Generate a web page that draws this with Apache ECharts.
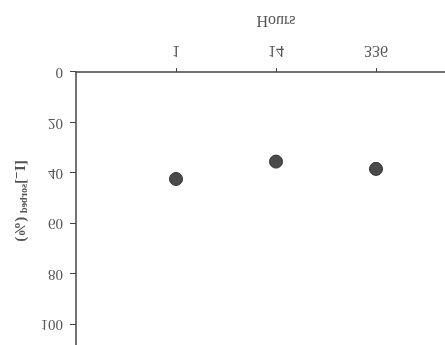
<!DOCTYPE html>
<html>
<head>
<meta charset="utf-8">
<script src="https://cdn.jsdelivr.net/npm/echarts@6/dist/echarts.min.js"></script>
<style>
html,body{margin:0;padding:0;background:#fff;}
#c{width:445px;height:345px;transform:scaleY(-1);}
</style>
</head>
<body>
<div id="c"></div>
<script>
// Hours categories (equally spaced positions 1,2,3 on the axis)
const hourLabels = ['1', '14', '336'];
const hourPositions = [1, 2, 3];
// Sorbed iodide (%)
const sorbed = [42.4, 35.5, 38.4];
const yTicks = [0, 20, 40, 60, 80, 100];

const chart = echarts.init(document.getElementById('c'), null, {renderer: 'canvas'});
const font = '"Liberation Serif", "DejaVu Serif", serif';
const axisCol = '#444';
const txtCol = '#555';

chart.setOption({
  backgroundColor: '#fff',
  animation: false,
  grid: {left: 76, right: 0, top: 0, bottom: 72, containLabel: false},
  xAxis: {
    type: 'value', min: 0, max: 3.69, interval: 1,
    name: 'Hours', nameLocation: 'middle', nameGap: 44,
    nameTextStyle: {fontFamily: font, fontSize: 16, color: txtCol, padding: [0, 0, 0, 31]},
    axisLine: {show: true, onZero: false, lineStyle: {color: axisCol, width: 1.5}},
    axisTick: {show: true, length: 4, customValues: hourPositions, lineStyle: {color: axisCol, width: 1}},
    splitLine: {show: false},
    axisLabel: {
      margin: 14, fontFamily: font, fontSize: 16, color: txtCol, customValues: hourPositions,
      formatter: v => { const i = hourPositions.indexOf(v); return i >= 0 ? hourLabels[i] : ''; }
    }
  },
  yAxis: {
    type: 'value', min: 0, max: 108.2, interval: 20,
    name: '[I⁻]{sub|sorbed} (%)', nameLocation: 'middle', nameGap: 46, nameRotate: 90,
    nameTextStyle: {fontFamily: font, fontSize: 15, color: txtCol, fontWeight: 'bold', padding: [0, 15, 0, 0],
      rich: {sub: {fontFamily: font, fontSize: 10, color: txtCol, verticalAlign: 'bottom', padding: [6, 0, 0, 0]}}},
    axisLine: {show: true, lineStyle: {color: axisCol, width: 1.5}},
    axisTick: {show: true, length: 6, customValues: yTicks, lineStyle: {color: axisCol, width: 1}},
    splitLine: {show: false},
    axisLabel: {
      margin: 13, fontFamily: font, fontSize: 15, color: txtCol, customValues: yTicks,
      formatter: v => yTicks.indexOf(v) >= 0 ? String(v) : ''
    }
  },
  series: [{
    type: 'scatter',
    data: hourPositions.map((x, i) => [x, sorbed[i]]),
    symbol: 'circle', symbolSize: 13,
    itemStyle: {color: '#4a4a4a', borderColor: '#333', borderWidth: 1, opacity: 1}
  }]
});
</script>
</body>
</html>
